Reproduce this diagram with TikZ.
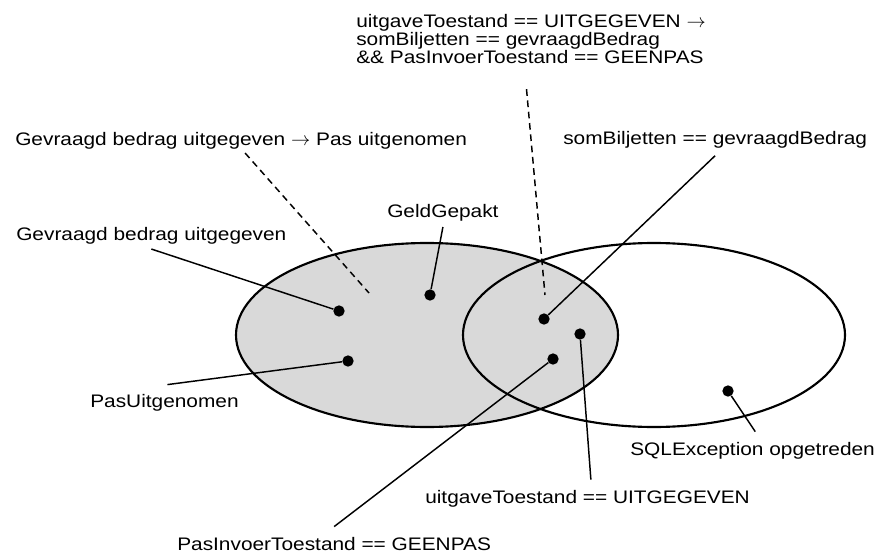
\documentclass[tikz,border=0pt]{standalone}
\usepackage{fontspec}
\setmainfont{Liberation Sans}[FakeStretch=1.15]
\definecolor{lichtgrijs}{HTML}{D9D9D9}
\usepackage{tikz}
\usetikzlibrary{calc}
\tikzset{
	vennlabel/.style={font=\fontsize{13.6}{13.5}\selectfont, inner sep=0pt}
}
\tikzset{
	stip/.style={circle, fill=black, inner sep=0pt, minimum size=8.5pt}
}
\tikzset{
	aanwijs/.style={line width=1.1pt},
	gestreept/.style={line width=1.1pt, dash pattern=on 5pt off 3.5pt},
	verzameling/.style={line width=1.6pt}
}

\begin{document}
\begin{tikzpicture}[x=0.75pt, y=-0.75pt]
			\useasboundingbox (0,0) rectangle (881,556);

			\begin{scope}
				\fill[lichtgrijs] (427,335) ellipse [x radius=191, y radius=92];
				\draw[verzameling] (427,335) ellipse [x radius=191, y radius=92];
				\draw[verzameling] (654,335) ellipse [x radius=191, y radius=92];
			\end{scope}

			\begin{scope}
				\node[vennlabel, anchor=north west, align=left] (lEis) at (356,14) {uitgaveToestand == UITGEGEVEN $\rightarrow$\\somBiljetten == gevraagdBedrag\\\&\& PasInvoerToestand == GEENPAS};
				\node[vennlabel, anchor=base west] (lImpl) at (15,146) {Gevraagd bedrag uitgegeven $\rightarrow$ Pas uitgenomen};
				\node[vennlabel, anchor=base west] (lSom) at (563,145) {somBiljetten == gevraagdBedrag};
				\node[vennlabel, anchor=base west] (lGeld) at (387,217) {GeldGepakt};
				\node[vennlabel, anchor=base west] (lGevr) at (16,240) {Gevraagd bedrag uitgegeven};
				\node[vennlabel, anchor=base west] (lPas) at (90,407) {PasUitgenomen};
				\node[vennlabel, anchor=base west] (lSQL) at (630,455) {SQLException opgetreden};
				\node[vennlabel, anchor=base west] (lUitg) at (425,503) {uitgaveToestand == UITGEGEVEN};
				\node[vennlabel, anchor=base west] (lPasInv) at (177,550) {PasInvoerToestand == GEENPAS};
			\end{scope}

			\begin{scope}
				\coordinate (eImpl) at (369,293);
				\coordinate (eEis) at (545,295);

				\node[stip] (dGevr) at (339,311) {};
				\node[stip] (dGeld) at (430,295) {};
				\node[stip] (dPas) at (348,361) {};
				\node[stip] (dSom) at (544,319) {};
				\node[stip] (dUitg) at (580,334) {};
				\node[stip] (dPasInv) at (553,359) {};
				\node[stip] (dSQL) at (728,391) {};
			\end{scope}

			\draw[gestreept] ([xshift=3pt, yshift=-2.25pt]lImpl.south) -- (eImpl);
			\draw[gestreept] ([xshift=-3.4pt, yshift=-19pt]lEis.south) -- (eEis);

			\draw[aanwijs] ([yshift=-3.75pt]lGevr.south) -- (dGevr);
			\draw[aanwijs] ([yshift=-4.5pt]lGeld.south) -- (dGeld);
			\draw[aanwijs] ([xshift=2.25pt, yshift=6.75pt]lPas.north) -- (dPas);
			\draw[aanwijs] ([yshift=-5pt]lSom.south) -- (dSom);
			\draw[aanwijs] ([xshift=2pt, yshift=7.5pt]lSQL.north) -- (dSQL);
			\draw[aanwijs] ([xshift=2.5pt, yshift=7.5pt]lUitg.north) -- (dUitg);
			\draw[aanwijs] ([yshift=7.5pt]lPasInv.north) -- (dPasInv);

		\end{tikzpicture}
\end{document}
